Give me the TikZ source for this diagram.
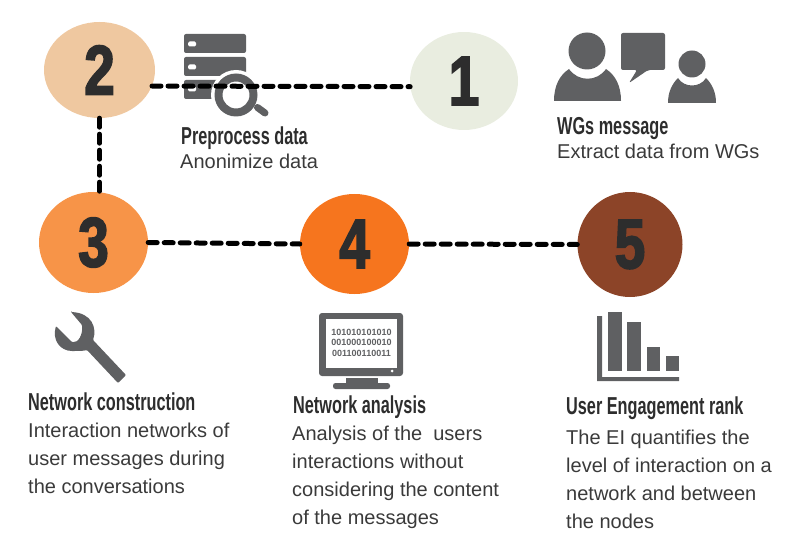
\documentclass[tikz,border=0pt]{standalone}
\usepackage{fontspec}
\setmainfont{Liberation Sans}
\newfontfamily\headfont[FakeStretch=0.664]{Liberation Sans}
\newfontfamily\digitfont[FakeStretch=0.78,FakeBold=2.5]{Liberation Sans Bold}
\usetikzlibrary{shapes.geometric,positioning}
\definecolor{icongray}{HTML}{5F6062}
\definecolor{textgray}{HTML}{3A3A3A}
\definecolor{digitgray}{HTML}{2D2D2D}
\tikzset{
  stepcircle/.style={ellipse, minimum width=#1, inner sep=0pt, text=digitgray, font=\fontsize{70}{70}\selectfont\digitfont},
  headtext/.style={anchor=north west, inner sep=0pt, text=digitgray, font=\fontsize{24.5}{26}\selectfont\headfont\bfseries},
  bodytext/.style={anchor=north west, inner sep=0pt, align=left, text=textgray, font=\fontsize{20}{28}\selectfont},
  dashline/.style={line width=5pt, line cap=round, dash pattern=on 9pt off 7pt, black},
  icon/.style={fill=icongray, draw=none}
}
\begin{document}
\begin{tikzpicture}[x=1pt,y=-1pt]
\useasboundingbox (0,0) rectangle (800,540);

% step circles
\node[stepcircle=111pt, minimum height=96pt, fill={rgb,255:red,239;green,200;blue,160}] (two) at (99.5,70) {2};
\node[stepcircle=108pt, minimum height=98pt, fill={rgb,255:red,233;green,237;blue,224}] (one) at (464,81) {1};
\node[stepcircle=109pt, minimum height=101pt, fill={rgb,255:red,247;green,148;blue,72}] (three) at (93.5,242.5) {3};
\node[stepcircle=109pt, minimum height=100pt, fill={rgb,255:red,246;green,117;blue,30}] (four) at (354.5,244) {4};
\node[stepcircle=105pt, minimum height=105pt, fill={rgb,255:red,140;green,68;blue,40}] (five) at (630,244.5) {5};

% server with magnifier
\fill[icon, rounded corners=2pt] (184,34) rectangle (246,53);
\fill[icon, rounded corners=2pt] (184,57) rectangle (246,76);
\fill[icon, rounded corners=2pt] (184,80) rectangle (246,99);
\foreach \y in {44,67,89} {
  \fill[white, rounded corners=1.5pt] (188,\y-2.5) rectangle (196,\y+2.5);
}
\fill[white] (236,95) circle (25);
\fill[icon, even odd rule] (236,95) circle (21.5) (236,95) circle (13.5);
\draw[icongray, line width=7pt, line cap=round] (257.5,107.5) -- (265,113);

% people and speech bubble
\fill[icon] (587,51) circle (18.5);
\fill[icon] (554,101) .. controls (554,85) and (560,75) .. (569,69) .. controls (578,82) and (597,82) .. (606,69) .. controls (615,75) and (621,85) .. (621,101) -- cycle;
\fill[icon] (692,64) circle (13.5);
\fill[icon] (668,103) .. controls (668,92) and (672,84) .. (678,78) .. controls (684,88) and (700,88) .. (706,78) .. controls (712,84) and (716,92) .. (716,103) -- cycle;
\fill[icon, rounded corners=2pt] (621,33) -- (665,33) -- (665,70) -- (648,70) -- (629,83) -- (637,70) -- (621,70) -- cycle;

% wrench
\fill[icon, rounded corners=1pt] (71,312) -- (82,325) .. controls (83,335) and (78,343) .. (72,342) -- (56,326) .. controls (52,340) and (60,351) .. (73,351) .. controls (79,351) and (83,351) .. (87,350) -- (118,383) -- (126,375) -- (93,340) .. controls (97,328) and (92,313) .. (71,312) -- cycle;

% monitor
\fill[icon, rounded corners=3pt] (319,313) rectangle (403,376);
\fill[white] (326,319) rectangle (397,368);
\fill[white] (392,371) circle (1.5);
\fill[icon] (346,378) rectangle (378,383);
\fill[icon, rounded corners=2.5pt] (333,383) rectangle (390,389);
\node[inner sep=0pt, align=center, text=icongray, font=\fontsize{9}{10.5}\selectfont\bfseries] (bits) at (361.5,342.5) {101010101010\\001000100010\\001100110011};

% bar chart
\fill[icon] (597,316) -- (602,316) -- (602,377) -- (679,377) -- (679,381) -- (597,381) -- cycle;
\fill[icon] (608,312) rectangle (622,371);
\fill[icon] (627,322) rectangle (641,371);
\fill[icon] (647,347) rectangle (660,371);
\fill[icon] (666,356) rectangle (679,371);

% connectors
\draw[dashline] (two.-17.6) -- (one.186);
\draw[dashline] (two.south) -- (three.north -| two.south);
\draw[dashline] (three.east) -- (four.west);
\draw[dashline] (four.east) -- (five.west);

% labels
\node[headtext] (prephead) at (181,127) {Preprocess data};
\node[bodytext] (prepbody) at (180,154) {Anonimize data};
\node[headtext] (wgshead) at (557,117) {WGs message};
\node[bodytext] (wgsbody) at (557,144) {Extract data from WGs};
\node[headtext] (nethead) at (28,393) {Network construction};
\node[bodytext] (netbody) at (28,423) {Interaction networks of\\user messages during\\the conversations};
\node[headtext] (anahead) at (293,396) {Network analysis};
\node[bodytext] (anabody) at (292,426) {Analysis of the\ \ users\\interactions without\\considering the content\\of the messages};
\node[headtext] (rankhead) at (566,397) {User Engagement rank};
\node[bodytext] (rankbody) at (566,430) {The EI quantifies the\\level of interaction on a\\network and between\\the nodes};
\end{tikzpicture}
\end{document}
